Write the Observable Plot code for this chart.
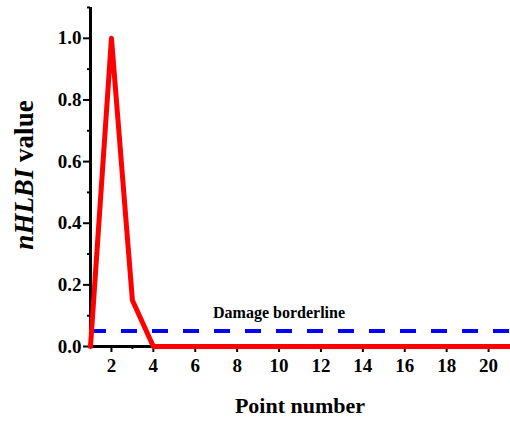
<!DOCTYPE html>
<html><head><meta charset="utf-8">
<script src="https://cdn.jsdelivr.net/npm/d3@7"></script>
<script src="https://cdn.jsdelivr.net/npm/@observablehq/plot@0.6"></script>
<style>body{margin:0;background:#fff}</style>
</head><body><div id="chart"></div>
<script>
const pointNumbers = [1,2,3,4,5,6,7,8,9,10,11,12,13,14,15,16,17,18,19,20,21];
const nhlbiValues = [0,1.0,0.15,0,0,0,0,0,0,0,0,0,0,0,0,0,0,0,0,0,0];
const borderlineValue = 0.05;
const borderlineLabel = "Damage borderline";
const xMajorTicks = [2,4,6,8,10,12,14,16,18,20];
const xMinorTicks = [3,5,7,9,11,13,15,17,19,21];
const yMajorTicks = [0,0.2,0.4,0.6,0.8,1.0];
const yMinorTicks = [0.1,0.3,0.5,0.7,0.9,1.1];

const data = pointNumbers.map((p,i)=>({x:p,y:nhlbiValues[i]}));
const font = "'Liberation Serif','Times New Roman',serif";

const chart = Plot.plot({
  width: 510, height: 425,
  marginLeft: 90, marginRight: 1, marginTop: 7, marginBottom: 79,
  style: {fontFamily: font, fontWeight: "bold", fontSize: "19px", color: "#000", background: "#fff"},
  x: {domain: [1,21]},
  y: {domain: [0,1.1]},
  marks: [
    Plot.axisX({ticks: xMinorTicks, tickSize: 3, text: null, strokeWidth: 2, label: null}),
    Plot.axisX({ticks: xMajorTicks, tickSize: 6, tickPadding: 6, strokeWidth: 2, label: null, tickFormat: d=>String(d)}),
    Plot.axisY({ticks: yMinorTicks, tickSize: 3, text: null, strokeWidth: 2, label: null}),
    Plot.axisY({ticks: yMajorTicks, tickSize: 7, tickPadding: 2, strokeWidth: 2, label: null, tickFormat: d=>d.toFixed(1)}),
    Plot.ruleX([1], {stroke: "#000", strokeWidth: 3}),
    Plot.ruleY([0], {stroke: "#000", strokeWidth: 3}),
    Plot.ruleY([borderlineValue], {x1: 1, x2: 21, stroke: "#0000ff", strokeWidth: 4, strokeDasharray: "16,15"}),
    Plot.line(data, {x: "x", y: "y", stroke: "#ff0000", strokeWidth: 5, strokeLinejoin: "round"}),
    Plot.text([{x: 10, y: 0.11, t: borderlineLabel}], {x: "x", y: "y", text: "t", fontSize: 16, fontWeight: "bold", fill: "#000"}),
    Plot.text(["Point number"], {frameAnchor: "bottom", dy: 66, fontSize: 22, fontWeight: "bold", fill: "#000"})
  ]
});
const svg = d3.select(chart);
const yl = svg.append("text")
  .attr("transform", "translate(27,175) rotate(-90)")
  .attr("text-anchor", "middle")
  .attr("dominant-baseline", "middle")
  .attr("font-family", font).attr("font-weight", "bold").attr("font-size", 27).attr("fill", "#000");
yl.append("tspan").attr("font-style", "italic").text("nHLBI");
yl.append("tspan").text(" value");
document.getElementById("chart").appendChild(chart);
</script></body></html>
